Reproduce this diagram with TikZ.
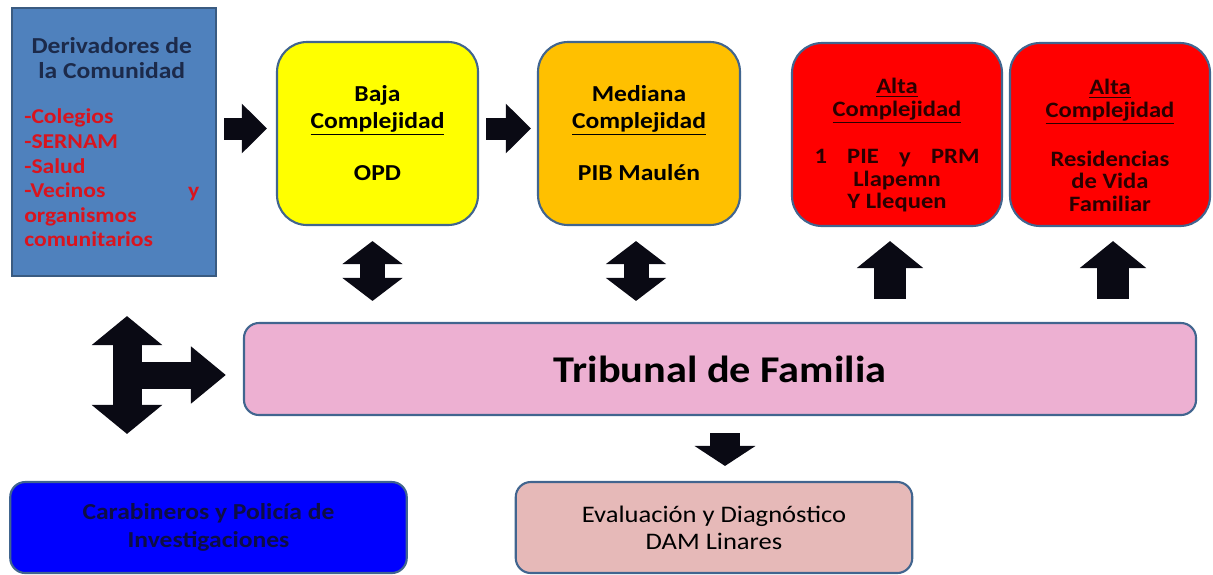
\documentclass[tikz,border=0pt]{standalone}
\usepackage{fontspec}
\setmainfont{Carlito}[FakeStretch = 1.12]
\usetikzlibrary{arrows.meta}

\definecolor{derivblue}{HTML}{4F81BD}
\definecolor{edgeblue}{HTML}{41658F}
\definecolor{titlenavy}{HTML}{1C2A4A}
\definecolor{listred}{HTML}{D9141E}
\definecolor{bajayellow}{HTML}{FFFF00}
\definecolor{medianaorange}{HTML}{FFC000}
\definecolor{altared}{HTML}{FF0000}
\definecolor{altatext}{HTML}{2A0000}
\definecolor{tribunalpink}{HTML}{EDB0D2}
\definecolor{carabblue}{HTML}{0000FF}
\definecolor{carabtext}{HTML}{0E0E45}
\definecolor{evalpink}{HTML}{E6B9B8}
\definecolor{arrowblack}{HTML}{0A0A14}

\begin{document}
\begin{tikzpicture}
[
	box/.style 			=
	{
		draw 			= edgeblue,
		line width 		= 1.2pt,
		align 			= center,
		inner sep 		= 0pt,
	},
	level box/.style 	=
	{
		box,
		rounded corners = 6mm,
		minimum height 	= 3.66cm,
		font 			= \bfseries\fontsize{13}{15}\selectfont,
	},
	alta box/.style 	=
	{
		level box,
		fill 			= altared,
		text 			= altatext,
		font 			= \bfseries\fontsize{12.5}{12.8}\selectfont,
	},
	low box/.style 		=
	{
		box,
		rounded corners = 3mm,
		minimum width 	= 7.93cm,
		minimum height 	= 1.82cm,
		font 			= \fontsize{13.5}{15.5}\selectfont,
	},
	% block arrows: shaft width, head width, head length
	flow/.style n args 	= {3}{draw = arrowblack, line width = #1, -{Triangle[width = #2, length = #3]}},
	twoway/.style n args = {3}{draw = arrowblack, line width = #1,
		{Triangle[width = #2, length = #3]}-{Triangle[width = #2, length = #3]}},
]

\useasboundingbox (0,0) rectangle (24.26,-11.48);

% community referrals
\node [box, draw = edgeblue!90!black, fill = derivblue, minimum width = 4.08cm, minimum height = 5.36cm]
	(deriv) at (2.28,-2.84)
{
	\parbox{3.5cm}{\bfseries\fontsize{12}{14}\selectfont
		{\centering\fontsize{13}{14.3}\selectfont\color{titlenavy} Derivadores de\\ la Comunidad\par}
		\vspace{12pt}
		\raggedright\color{listred}
		-Colegios\\
		-SERNAM\\
		-Salud\\
		-Vecinos\hfill y\\
		organismos\\
		comunitarios}
};

% levels of complexity
\node [level box, fill = bajayellow, minimum width = 4.02cm] (baja) at (7.55,-2.67)
	{Baja\\ \underline{Complejidad}\\[15pt] OPD};
\node [level box, fill = medianaorange, minimum width = 4.04cm] (mediana) at (12.78,-2.67)
	{Mediana\\ \underline{Complejidad}\\[15pt] PIB Maulén};
\node [alta box, minimum width = 4.2cm] (alta1) at (17.94,-2.69)
	{\rule{0pt}{21pt}\underline{Alta}\\ \underline{Complejidad}\\[14pt]
	 \makebox[3.3cm]{1\hfill PIE\hfill y\hfill PRM}\\ Llapemn\\ Y Llequen};
\node [alta box, minimum width = 4.0cm] (alta2) at (22.2,-2.69)
	{\rule{0pt}{21pt}\underline{Alta}\\ \underline{Complejidad}\\[14pt] Residencias\\ de Vida\\ Familiar};

% court
\node [box, fill = tribunalpink, rounded corners = 3mm, minimum width = 19.04cm, minimum height = 1.84cm,
	font = \bfseries\fontsize{21.5}{24}\selectfont] (tribunal) at (14.4,-7.38) {Tribunal de Familia};

\node [low box, fill = carabblue, text = carabtext, font = \bfseries\fontsize{13}{15.5}\selectfont]
	(carab) at (4.17,-10.55) {Carabineros y Policía de\\ Investigaciones};
\node [low box, fill = evalpink] (eval) at (14.28,-10.55) {Evaluación y Diagnóstico\\ DAM Linares};

\coordinate (hub) at (2.54,-7.5);

% arrows
\draw [flow = {0.44cm}{0.96cm}{0.5cm}, shorten < = 1.4mm, shorten > = 1.8mm]
	([yshift = 1mm]deriv.east |- baja.west) -- ([yshift = 1mm]baja.west);
\draw [flow = {0.44cm}{0.96cm}{0.5cm}, shorten < = 1.4mm, shorten > = 1.2mm]
	([yshift = 1mm]baja.east) -- ([yshift = 1mm]mediana.west);

\draw [twoway = {0.5cm}{1.18cm}{0.46cm}, shorten < = 4.2mm, shorten > = 3mm]
	([xshift = -1mm]tribunal.north -| baja.south) -- ([xshift = -1mm]baja.south);
\draw [twoway = {0.5cm}{1.18cm}{0.46cm}, shorten < = 4.2mm, shorten > = 3mm]
	([xshift = -0.6mm]tribunal.north -| mediana.south) -- ([xshift = -0.6mm]mediana.south);

\draw [flow = {0.64cm}{1.3cm}{0.54cm}, shorten < = 4.6mm, shorten > = 2.8mm]
	([xshift = -1.4mm]tribunal.north -| alta1.south) -- ([xshift = -1.4mm]alta1.south);
\draw [flow = {0.64cm}{1.3cm}{0.54cm}, shorten < = 4.6mm, shorten > = 2.8mm]
	([xshift = 0.6mm]tribunal.north -| alta2.south) -- ([xshift = 0.6mm]alta2.south);

\draw [flow = {0.6cm}{1.2cm}{0.4cm}, shorten < = 3.4mm, shorten > = 3mm]
	([xshift = 1mm]tribunal.south) -- ([xshift = 1mm]tribunal.south |- eval.north);

\draw [twoway = {0.58cm}{1.38cm}{0.58cm}, shorten < = 9.4mm, shorten > = 7.8mm]
	(carab.north -| hub) -- (deriv.south -| hub);
\draw [flow = {0.54cm}{1.1cm}{0.7cm}, shorten > = 3.4mm]
	(hub) -- (tribunal.west |- hub);

\end{tikzpicture}
\end{document}
